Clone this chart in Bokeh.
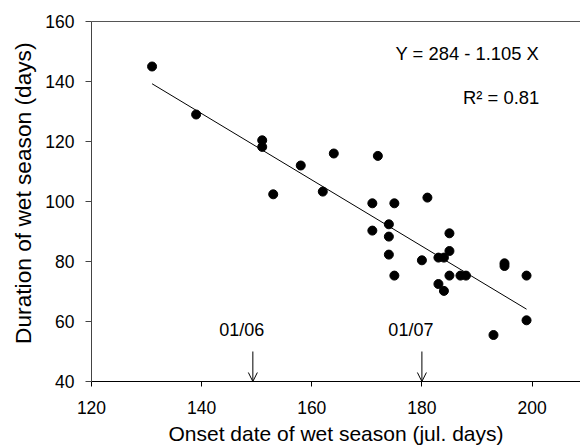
from bokeh.plotting import figure
from bokeh.models import Range1d, LinearAxis, FixedTicker, Label, Arrow, OpenHead, Title
from bokeh.embed import file_html
from bokeh.resources import INLINE

# ---- data ----
onset_day = [131, 139, 151, 151, 153, 158, 162, 164, 171, 171, 172, 174, 174, 174,
             175, 175, 180, 181, 183, 184, 183, 184, 185, 185, 185, 187, 188, 193,
             195, 195, 199, 199]
duration = [145, 129, 120.4, 118.2, 102.4, 112, 103.3, 116, 99.4, 90.3, 115.2, 92.4, 88.3, 82.3,
            99.4, 75.3, 80.4, 101.3, 81.3, 81.3, 72.5, 70.2, 89.4, 83.5, 75.3, 75.3, 75.3, 55.5,
            79.4, 78.5, 75.3, 60.4]

intercept = 284.0
slope = -1.105
r_squared = 0.81

arrow_days = [149.3, 180.0]
arrow_labels = ["01/06", "01/07"]

x_ticks = [120, 140, 160, 180, 200]
y_ticks = [40, 60, 80, 100, 120, 140, 160]

FONT = "Liberation Sans"

p = figure(width=580, height=447, output_backend="svg", toolbar_location=None,
           x_range=Range1d(120, 208.8), y_range=Range1d(40, 160),
           min_border_left=88, min_border_right=0, min_border_top=21, min_border_bottom=66)
p.outline_line_color = None
p.xgrid.visible = False
p.ygrid.visible = False
p.background_fill_color = "white"
p.border_fill_color = "white"

# axes
xa = p.xaxis[0]
xa.ticker = FixedTicker(ticks=x_ticks)
xa.axis_line_color = "black"
xa.major_tick_line_color = "black"
xa.major_tick_out = 5
xa.major_tick_in = 0
xa.minor_tick_line_color = None
xa.major_label_text_font = FONT
xa.major_label_text_font_size = "17.5px"
xa.major_label_text_color = "black"
xa.major_label_standoff = 14
xa.axis_label = "Onset date of wet season (jul. days)"
xa.axis_label_text_font = FONT
xa.axis_label_text_font_size = "21px"
xa.axis_label_text_font_style = "normal"
xa.axis_label_text_color = "black"
xa.axis_label_standoff = 5

ya = p.yaxis[0]
ya.ticker = FixedTicker(ticks=y_ticks)
ya.axis_line_color = "#444444"
ya.major_tick_line_color = "#444444"
ya.major_tick_out = 6
ya.major_tick_in = 0
ya.minor_tick_line_color = None
ya.major_label_text_font = FONT
ya.major_label_text_font_size = "17.5px"
ya.major_label_text_color = "black"
ya.major_label_standoff = 11

top = LinearAxis(ticker=FixedTicker(ticks=[]), axis_line_color="#555555",
                 major_tick_line_color=None, minor_tick_line_color=None,
                 major_label_text_font_size="0px")
p.add_layout(top, "above")

# y axis title (placed slightly toward the top, as in the reference)
p.add_layout(Title(text="Duration of wet season (days)", align="right", offset=21,
                   text_font=FONT, text_font_size="22.7px", text_font_style="normal",
                   text_color="black", standoff=14), "left")

# points
p.scatter(onset_day, duration, size=9, color="black")

# regression line
line_x = [min(onset_day), max(onset_day)]
line_y = [intercept + slope * x for x in line_x]
p.line(line_x, line_y, line_color="black", line_width=1)

# equation texts
p.add_layout(Label(x=201.3, y=146, text=f"Y = {intercept:.0f} - {abs(slope):.3f} X",
                   text_align="right", text_font=FONT, text_font_size="18.4px",
                   text_color="black"))
p.add_layout(Label(x=201.3, y=131.3, text=f"R\u00b2 = {r_squared:.2f}",
                   text_align="right", text_font=FONT, text_font_size="18.4px",
                   text_color="black"))

# date arrows
for d, lab in zip(arrow_days, arrow_labels):
    p.add_layout(Arrow(x_start=d, y_start=50, x_end=d, y_end=40,
                       end=OpenHead(size=9, line_width=1, line_color="black"),
                       line_color="black", line_width=1))
    p.add_layout(Label(x=d - 2.0, y=54, text=lab, text_align="center",
                       text_font=FONT, text_font_size="18px", text_color="black"))

open("out.html", "w").write(file_html(p, INLINE))
